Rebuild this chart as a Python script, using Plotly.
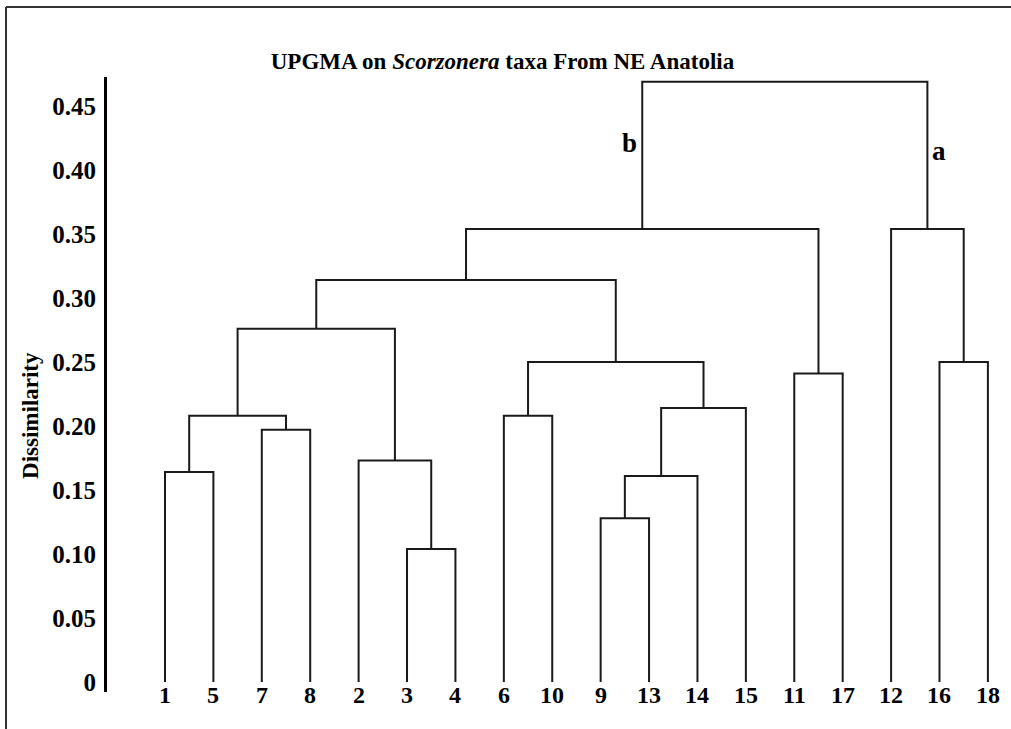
import plotly.graph_objects as go

# ---- data ----
leaf_labels = ["1", "5", "7", "8", "2", "3", "4", "6", "10", "9", "13",
               "14", "15", "11", "17", "12", "16", "18"]
# merges: (child_a, child_b) ids; ids < 18 are leaves, ids >= 18 are earlier merges
merge_children = [(0, 1), (2, 3), (18, 19), (5, 6), (4, 21), (20, 22),
                  (7, 8), (9, 10), (25, 11), (26, 12), (24, 27), (23, 28),
                  (13, 14), (29, 30), (16, 17), (15, 32), (31, 33)]
merge_heights = [0.164, 0.197, 0.208, 0.104, 0.173, 0.276,
                 0.208, 0.128, 0.161, 0.214, 0.250, 0.314,
                 0.241, 0.354, 0.250, 0.354, 0.469]
y_tickvals = [0, 0.05, 0.10, 0.15, 0.20, 0.25, 0.30, 0.35, 0.40, 0.45]
y_ticktext = ["0", "0.05", "0.10", "0.15", "0.20", "0.25", "0.30", "0.35", "0.40", "0.45"]
group_b_merge, group_a_merge = 13, 15   # merge indices carrying labels "b" and "a"

# ---- build dendrogram paths ----
n = len(leaf_labels)
pos = {i: float(i) for i in range(n)}
hgt = {i: 0.0 for i in range(n)}
xs, ys = [], []
for k, ((a, b), h) in enumerate(zip(merge_children, merge_heights)):
    xa, xb = pos[a], pos[b]
    xs += [xa, xa, xb, xb, None]
    ys += [hgt[a], h, h, hgt[b], None]
    pos[n + k] = (xa + xb) / 2
    hgt[n + k] = h

FONT = "Liberation Serif"
fig = go.Figure()
fig.add_trace(go.Scatter(x=xs, y=ys, mode="lines",
                         line=dict(color="#1a1a1a", width=2),
                         hoverinfo="skip", showlegend=False))

annotations = []
for i, lab in enumerate(leaf_labels):
    annotations.append(dict(x=i, y=0, xref="x", yref="y", text="<b>%s</b>" % lab,
                            showarrow=False, yanchor="middle", yshift=-13,
                            font=dict(family=FONT, size=24, color="black")))
annotations.append(dict(x=pos[n + group_b_merge], y=0.421, xref="x", yref="y",
                        text="<b>b</b>", showarrow=False, xanchor="right", xshift=-3,
                        font=dict(family=FONT, size=27, color="black")))
annotations.append(dict(x=pos[n + group_a_merge], y=0.415, xref="x", yref="y",
                        text="<b>a</b>", showarrow=False, xanchor="left", xshift=3,
                        font=dict(family=FONT, size=27, color="black")))
annotations.append(dict(x=-0.085, y=0.449, xref="paper", yref="paper",
                        text="<b>Dissimilarity</b>", textangle=-90, showarrow=False,
                        xanchor="center", yanchor="middle",
                        font=dict(family=FONT, size=23, color="black")))

L, R, T, B = 107, 11, 77, 37
W, H = 1011, 729
pw, ph = W - L - R, H - T - B
def px(xp):
    return (xp - L) / pw
def py(yp):
    return (H - B - yp) / ph

shapes = [
    dict(type="line", xref="paper", yref="paper", x0=px(6), x1=px(1030), y0=py(7), y1=py(7),
         line=dict(color="#333", width=2)),
    dict(type="line", xref="paper", yref="paper", x0=px(6), x1=px(6), y0=py(7), y1=py(760),
         line=dict(color="#333", width=2)),
]

fig.update_layout(
    width=W, height=H, autosize=False,
    margin=dict(l=L, r=R, t=T, b=B),
    paper_bgcolor="white", plot_bgcolor="white",
    title=dict(text="<b>UPGMA on <i>Scorzonera</i> taxa From NE Anatolia</b>",
               x=0.497, xanchor="center", y=1 - 61 / H, yanchor="middle",
               font=dict(family=FONT, size=23, color="black")),
    xaxis=dict(range=[-1.198, 17.25], showgrid=False, zeroline=False,
               showline=False, showticklabels=False, ticks=""),
    yaxis=dict(range=[-0.0078, 0.4727], showgrid=False, zeroline=False,
               showline=True, linecolor="black", linewidth=3, ticks="",
               tickvals=y_tickvals, ticktext=y_ticktext, ticklabelstandoff=3,
               tickfont=dict(family=FONT, size=25, color="black", weight="bold")),
    annotations=annotations,
    shapes=shapes,
)
fig.write_html("out.html", config={"displayModeBar": False},
               post_script="document.body.style.margin='0';document.body.style.padding='0';")
